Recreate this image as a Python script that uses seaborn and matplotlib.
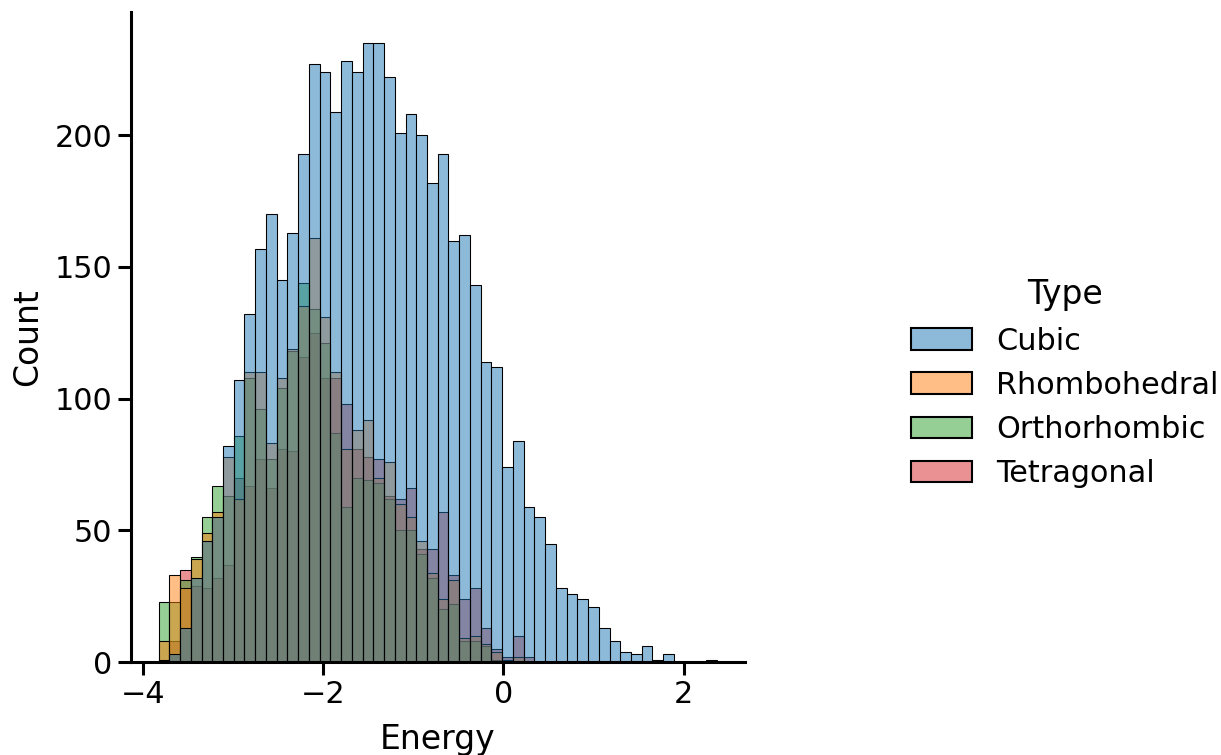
import numpy as np
import pandas as pd
import matplotlib
matplotlib.use("Agg")
import matplotlib.pyplot as plt
import seaborn as sns

# ---- data (counts per energy bin) ----
types = ["Cubic", "Rhombohedral", "Orthorhombic", "Tetragonal"]

bin_start = -3.83
bin_width = 0.11923
n_bins = 52

xtick_values = [-4, -2, 0, 2]
ytick_values = [0, 50, 100, 150, 200]

cubic = [1, 3, 13, 32, 46, 55, 82, 107, 132, 157,
         170, 145, 163, 193, 227, 224, 209, 228, 224, 235,
         235, 222, 201, 208, 200, 182, 193, 160, 162, 143,
         114, 112, 74, 84, 59, 55, 45, 28, 26, 24,
         21, 13, 8, 4, 3, 6, 1, 3, 0, 0,
         0, 0]
rhombohedral = [8, 33, 28, 39, 49, 57, 78, 62, 110, 110,
                83, 108, 119, 135, 161, 131, 110, 81, 88, 92,
                70, 76, 60, 55, 46, 34, 24, 31, 9, 10,
                7, 4, 1, 2, 0, 0, 0, 0, 0, 0,
                0, 0, 0, 0, 0, 0, 0, 0, 0, 0,
                0, 0]
orthorhombic = [23, 23, 31, 40, 55, 67, 63, 86, 108, 96,
                77, 104, 118, 144, 134, 121, 87, 59, 70, 69,
                68, 62, 50, 50, 41, 32, 20, 22, 8, 8,
                6, 1, 0, 0, 0, 0, 0, 0, 0, 0,
                0, 0, 0, 0, 0, 0, 0, 0, 0, 0,
                0, 0]
tetragonal = [0, 8, 35, 29, 28, 32, 37, 70, 67, 77,
              66, 81, 80, 116, 125, 108, 108, 98, 81, 78,
              77, 63, 62, 66, 43, 43, 57, 33, 24, 28,
              13, 5, 2, 10, 2, 0, 0, 0, 0, 0,
              0, 0, 0, 0, 0, 0, 0, 0, 0, 0,
              0, 1]

# ---- build long table for seaborn ----
bin_end = bin_start + bin_width * n_bins
edges = bin_start + bin_width * np.arange(n_bins + 1)
centers = (edges[:-1] + edges[1:]) / 2
series = {"Cubic": cubic, "Rhombohedral": rhombohedral,
          "Orthorhombic": orthorhombic, "Tetragonal": tetragonal}
frames = []
for t in types:
    frames.append(pd.DataFrame({"Energy": centers, "Count": series[t], "Type": t}))
df = pd.concat(frames, ignore_index=True)

sns.set_theme(style="ticks", context="talk", font_scale=1.32,
              rc={"axes.edgecolor": "black", "text.color": "black",
                  "axes.labelcolor": "black", "xtick.color": "black",
                  "ytick.color": "black", "axes.linewidth": 2.2,
                  "xtick.major.width": 2.2, "ytick.major.width": 2.2,
                  "xtick.major.size": 9.5, "ytick.major.size": 9.5})
plt.rcParams["font.family"] = ["DejaVu Sans"]

fig, ax = plt.subplots(figsize=(12.21, 7.55), dpi=100)
fig.subplots_adjust(left=0.107, right=0.610, bottom=0.123, top=0.984)

sns.histplot(data=df, x="Energy", weights="Count", hue="Type",
             hue_order=types, bins=n_bins, binrange=(bin_start, bin_end),
             palette="tab10", edgecolor="black", ax=ax)
ax.set_ylabel("Count", labelpad=8)
ax.set_xlabel("Energy", labelpad=10)
ax.set_xticks(xtick_values)
ax.set_yticks(ytick_values)
sns.despine(ax=ax)

sns.move_legend(ax, "center left", bbox_to_anchor=(0.724, 0.4925),
                bbox_transform=fig.transFigure, frameon=False)

fig.savefig("out.png", dpi=100)
